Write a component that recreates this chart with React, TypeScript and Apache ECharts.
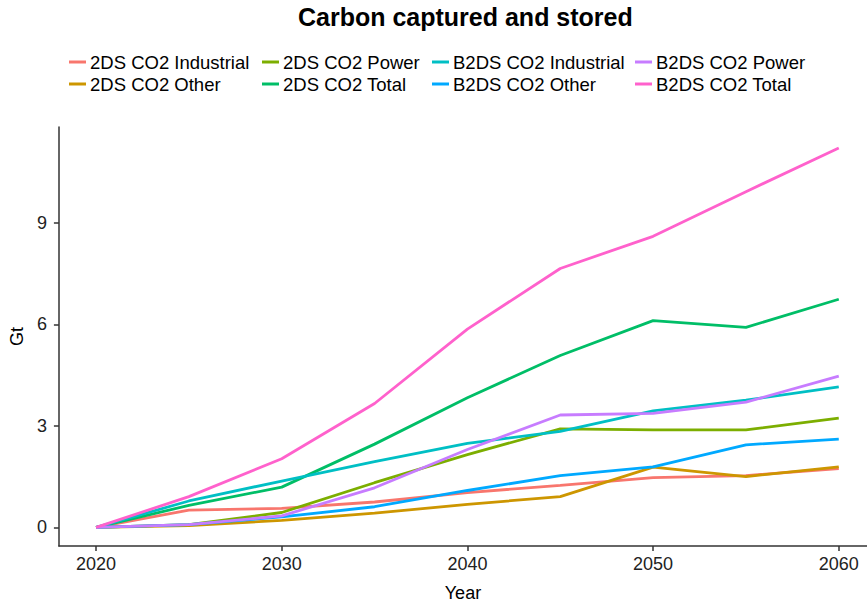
import React, { useEffect, useRef } from "react";
import * as echarts from "echarts";

const years = [2020, 2025, 2030, 2035, 2040, 2045, 2050, 2055, 2060];
const xTicks = [2020, 2030, 2040, 2050, 2060];
const yTicks = [0, 3, 6, 9];

const seriesNames = [
  "2DS CO2 Industrial",
  "2DS CO2 Other",
  "2DS CO2 Power",
  "2DS CO2 Total",
  "B2DS CO2 Industrial",
  "B2DS CO2 Other",
  "B2DS CO2 Power",
  "B2DS CO2 Total",
];
const seriesColors = [
  "#F8766D",
  "#CD9600",
  "#7CAE00",
  "#00BE67",
  "#00BFC4",
  "#00A9FF",
  "#C77CFF",
  "#FF61CC",
];

const ds2Industrial = [0, 0.51, 0.56, 0.75, 1.03, 1.24, 1.47, 1.53, 1.74];
const ds2Other = [0, 0.05, 0.21, 0.42, 0.68, 0.91, 1.78, 1.5, 1.79];
const ds2Power = [0, 0.08, 0.44, 1.32, 2.15, 2.91, 2.88, 2.88, 3.23];
const ds2Total = [0, 0.65, 1.19, 2.46, 3.83, 5.08, 6.11, 5.91, 6.74];
const b2dsIndustrial = [0, 0.78, 1.37, 1.94, 2.48, 2.84, 3.44, 3.76, 4.15];
const b2dsOther = [0, 0.08, 0.31, 0.61, 1.09, 1.53, 1.79, 2.44, 2.61];
const b2dsPower = [0, 0.08, 0.34, 1.17, 2.3, 3.32, 3.37, 3.7, 4.47];
const b2dsTotal = [0, 0.91, 2.03, 3.66, 5.86, 7.65, 8.6, 9.92, 11.21];

const seriesValues = [
  ds2Industrial,
  ds2Other,
  ds2Power,
  ds2Total,
  b2dsIndustrial,
  b2dsOther,
  b2dsPower,
  b2dsTotal,
];

// legend layout: columns (column-major, 2 rows)
const legendColumnsLeft = [69, 262, 432, 635];
const legendRowsTop = [52, 74];

const FONT = "'Liberation Sans', Arial, Helvetica, sans-serif";

export default function App() {
  const ref = useRef<HTMLDivElement>(null);

  useEffect(() => {
    if (!ref.current) return;
    const chart = echarts.init(ref.current, undefined, { renderer: "svg" });

    const legends = seriesNames.map((name, i) => ({
      show: true,
      data: [name],
      left: legendColumnsLeft[Math.floor(i / 2)],
      top: legendRowsTop[i % 2],
      padding: 0,
      icon: "rect",
      itemWidth: 17,
      itemHeight: 3,
      itemGap: 0,
      selectedMode: false,
      textStyle: {
        fontFamily: FONT,
        fontSize: 18.5,
        color: "#000",
        lineHeight: 20,
        padding: [0, 0, 0, -1],
      },
    }));

    chart.setOption({
      animation: false,
      backgroundColor: "#fff",
      title: {
        text: "Carbon captured and stored",
        left: 298,
        top: 4,
        padding: 0,
        textStyle: {
          fontFamily: FONT,
          fontSize: 25,
          fontWeight: "bold",
          color: "#000",
        },
      },
      legend: legends,
      grid: {
        left: 57,
        top: 127,
        right: 0,
        bottom: 58,
        containLabel: false,
      },
      xAxis: {
        type: "value",
        min: 2018,
        max: 2061.52,
        name: "Year",
        nameLocation: "middle",
        nameGap: 38,
        nameTextStyle: { fontFamily: FONT, fontSize: 18, color: "#000" },
        axisLine: { show: true, onZero: false, lineStyle: { color: "#333", width: 1.5 } },
        axisTick: {
          show: true,
          length: 5,
          customValues: xTicks,
          lineStyle: { color: "#333", width: 1.5 },
        },
        axisLabel: {
          customValues: xTicks,
          margin: 9,
          fontFamily: FONT,
          fontSize: 18,
          color: "#222",
          formatter: (v: number) => String(v),
        },
        splitLine: { show: false },
      },
      yAxis: {
        type: "value",
        min: -0.55,
        max: 11.83,
        name: "Gt",
        nameLocation: "middle",
        nameGap: 28,
        nameTextStyle: { fontFamily: FONT, fontSize: 18, color: "#000" },
        axisLine: { show: true, onZero: false, lineStyle: { color: "#333", width: 1.5 } },
        axisTick: {
          show: true,
          length: 5,
          customValues: yTicks,
          lineStyle: { color: "#333", width: 1.5 },
        },
        axisLabel: {
          customValues: yTicks,
          margin: 12,
          fontFamily: FONT,
          fontSize: 18,
          color: "#222",
        },
        splitLine: { show: false },
      },
      series: seriesNames.map((name, i) => ({
        name,
        type: "line",
        data: years.map((y, j) => [y, seriesValues[i][j]]),
        showSymbol: false,
        symbol: "none",
        color: seriesColors[i],
        lineStyle: { width: 2.8, color: seriesColors[i] },
        z: 2 + i,
      })),
    });

    return () => chart.dispose();
  }, []);

  return (
    <div
      ref={ref}
      style={{ position: "fixed", left: 0, top: 0, width: 867, height: 607, background: "#fff" }}
    />
  );
}
